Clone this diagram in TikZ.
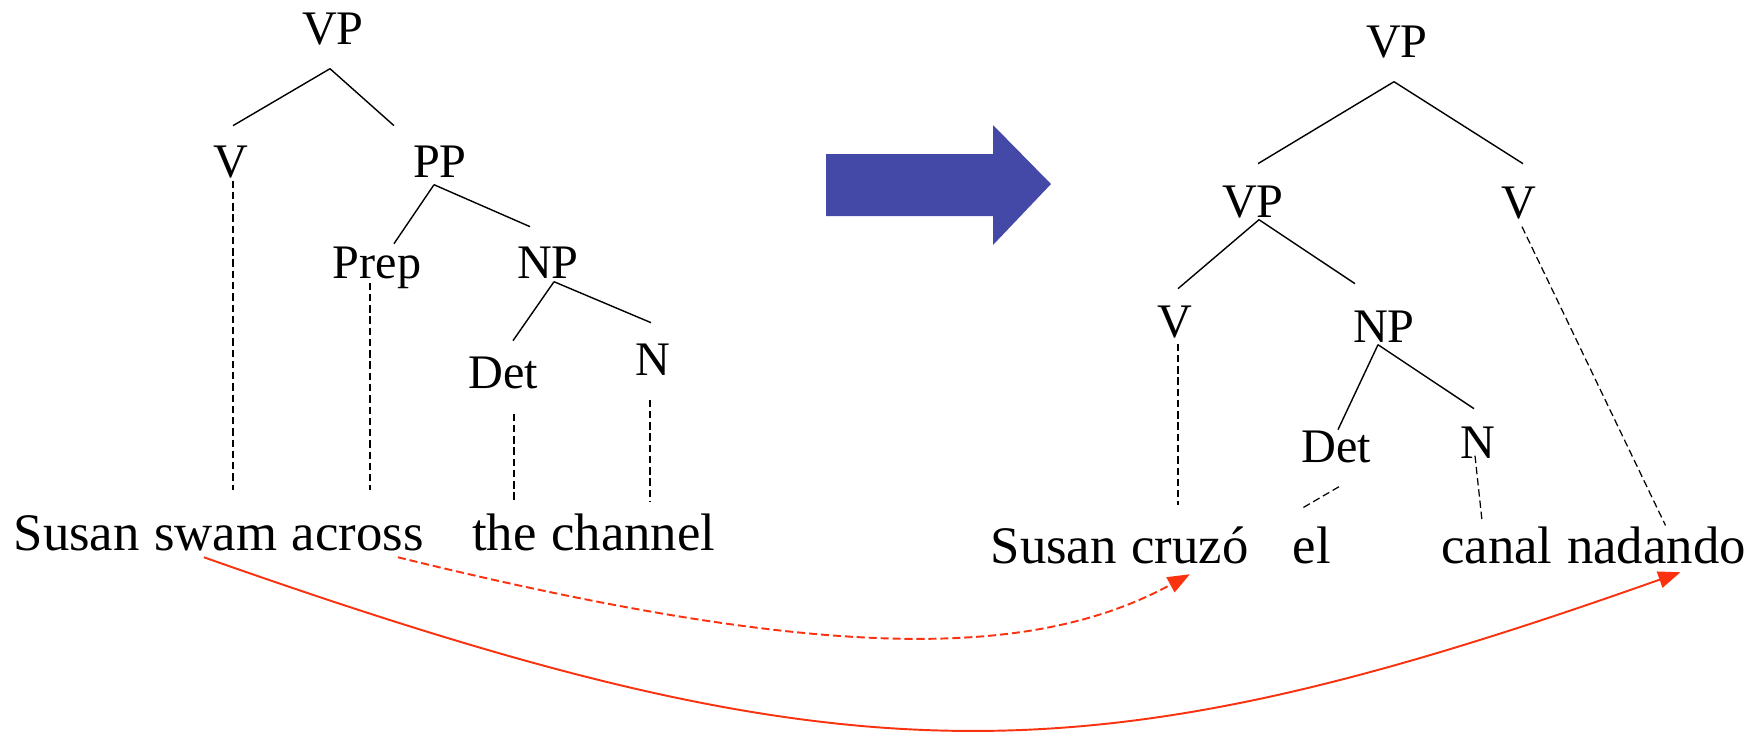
\documentclass[tikz,border=0pt]{standalone}
\usepackage{fontspec}
\setmainfont{Liberation Serif}
\usetikzlibrary{positioning,calc,arrows.meta}
\definecolor{arrowblue}{RGB}{68,73,168}
\definecolor{linkred}{RGB}{250,50,15}

\begin{document}
\begin{tikzpicture}[x=0.01cm, y=-0.01cm,
    cat/.style = {inner sep=0pt, anchor=base, text height=9pt, text depth=0pt, font=\fontsize{13.7}{16}\selectfont},
    word/.style = {inner sep=0pt, text height=10.5pt, text depth=3pt, font=\fontsize{15}{18}\selectfont},
    branch/.style = {line width=0.4pt},
    leaf/.style = {line width=0.35pt, dash pattern=on 2.1pt off 1.1pt},
    move/.style = {linkred, line width=0.55pt, -{Triangle[length=6.3pt,width=4.8pt]}}]
    \useasboundingbox (0,0) rectangle (1753,732);

    % English tree
    \node[cat] (lVP) at (333,44) {VP};
    \node[cat] (lV) at (231,177) {V};
    \node[cat] (lPP) at (440,177) {PP};
    \node[cat] (lPrep) at (377,278) {Prep};
    \node[cat] (lNP) at (548,278) {NP};
    \node[cat] (lDet) at (503,388) {Det};
    \node[cat] (lN) at (653,375) {N};

    \node[word, anchor=base west] (susanL) at (13,550) {Susan};
    \node[word, base right=3.75pt of susanL] (swam) {swam};
    \node[word, base right=3.75pt of swam] (across) {across};
    \node[word, base right=13.4pt of across] (the) {the};
    \node[word, base right=3.75pt of the] (channel) {channel};

    \draw[branch] ($(lVP.south)+(-3,24)$) -- ($(lV.north)+(2,-19)$);
    \draw[branch] ($(lVP.south)+(-3,24)$) -- ($(lPP.north)+(-46,-19)$);
    \draw[branch] ($(lPP.south)+(-6,7)$) -- ($(lPrep.north)+(17,-2)$);
    \draw[branch] ($(lPP.south)+(-6,7)$) -- ($(lNP.north)+(-18,-19)$);
    \draw[branch] ($(lNP.south)+(6,3)$) -- ($(lDet.north)+(10,-15)$);
    \draw[branch] ($(lNP.south)+(6,3)$) -- ($(lN.north)+(-2,-20)$);

    \draw[leaf] ($(lV.south)+(2,3)$) -- ($(lV.south |- swam.north)+(2,-22)$);
    \draw[leaf] ($(lPrep.south)+(-7,4)$) -- ($(lPrep.south |- across.north)+(-7,-22)$);
    \draw[leaf] ($(lDet.south)+(11,25)$) -- ($(lDet.south |- the.north)+(11,-11)$);
    \draw[leaf] ($(lN.south)+(-3,24)$) -- ($(lN.south |- channel.north)+(-3,-11)$);

    % Spanish tree
    \node[cat] (rVP) at (1397,57) {VP};
    \node[cat] (rVPb) at (1253,217) {VP};
    \node[cat] (rV) at (1519,218) {V};
    \node[cat] (rVb) at (1175,337) {V};
    \node[cat] (rNP) at (1384,342) {NP};
    \node[cat] (rDet) at (1336,462) {Det};
    \node[cat] (rN) at (1478,458) {N};

    \node[word, anchor=base west] (susanR) at (990,563) {Susan};
    \node[word, base right=3.75pt of susanR] (cruzo) {cruzó};
    \node[word, base right=12.2pt of cruzo] (el) {el};
    \node[word, base right=31pt of el] (canal) {canal};
    \node[word, base right=3.75pt of canal] (nadando) {nadando};

    \draw[branch] ($(rVP.south)+(-3,24)$) -- ($(rVPb.north)+(5,-21)$);
    \draw[branch] ($(rVP.south)+(-3,24)$) -- ($(rV.north)+(4,-22)$);
    \draw[branch] ($(rVPb.south)+(6,2)$) -- ($(rVb.north)+(3,-16)$);
    \draw[branch] ($(rVPb.south)+(6,2)$) -- ($(rNP.north)+(-29,-26)$);
    \draw[branch] ($(rNP.south)+(-6,2)$) -- ($(rDet.north)+(2,0)$);
    \draw[branch] ($(rNP.south)+(-6,2)$) -- ($(rN.north)+(-4,-17)$);

    \draw[leaf] ($(rVb.south)+(3,6)$) -- ($(rVb.south |- cruzo.north)+(3,-20)$);
    \draw[leaf] ($(rDet.south)+(3,24)$) -- ($(el.north)+(-10,-17)$);
    \draw[leaf] ($(rN.south)+(-3,-3)$) -- ($(rN.south |- canal.north)+(4,-5)$);
    \draw[leaf] ($(rV.south)+(3,8)$) -- ($(nadando.north)+(9,0)$);

    % transfer arrow
    \fill[arrowblue] (826,154) -- (993,154) -- (993,125) -- (1051,184)
        -- (993,245) -- (993,216) -- (826,216) -- cycle;

    % word movements
    \draw[move, dash pattern=on 2.3pt off 1.1pt] ($(across.south)+(40,-4)$)
        .. controls (820,661) and (1030,661) .. (cruzo.south);
    \draw[move] ($(swam.south)+(-12,-4)$)
        .. controls (850,785) and (1080,785) .. ($(nadando.south)+(24,-2)$);
\end{tikzpicture}
\end{document}
